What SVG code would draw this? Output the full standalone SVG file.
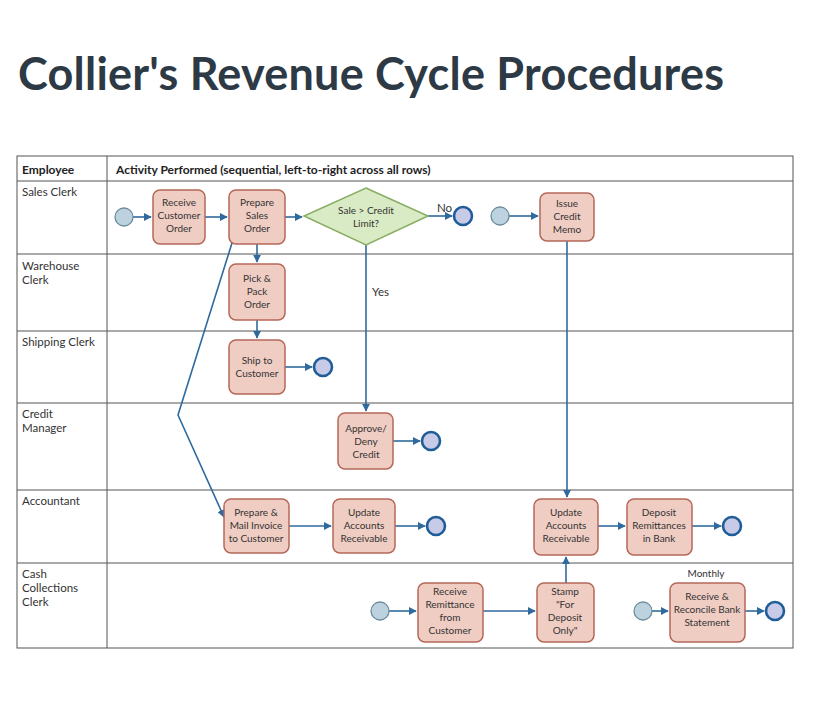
<svg xmlns="http://www.w3.org/2000/svg" width="836" height="716" viewBox="0 0 836 716">
<style>
.t{font-family:Lato,"Noto Sans",sans-serif;font-size:10px;fill:#333;text-anchor:middle}
.l{font-family:Lato,"Noto Sans",sans-serif;font-size:11.5px;fill:#333}
.h{font-family:Lato,"Noto Sans",sans-serif;font-size:12px;font-weight:bold;fill:#222}
.b{fill:#f0cdc3;stroke:#b5675a;stroke-width:1.5}
.s{fill:#bcd2de;stroke:#6f8d9e;stroke-width:1.3}
.e{fill:#c8cbe8;stroke:#1f5d99;stroke-width:2.6}
.c{stroke:#2f6a9e;stroke-width:1.6;fill:none;marker-end:url(#a)}
.g{stroke:#555;stroke-width:1;fill:none}
</style>
<defs><marker id="a" viewBox="0 0 10 10" refX="9" refY="5" markerWidth="5" markerHeight="5" orient="auto"><path d="M0,0L10,5L0,10z" fill="#2f6a9e"/></marker></defs>
<rect width="836" height="716" fill="#fff"/>
<text x="18" y="90" font-family="Lato,'Noto Sans',sans-serif" font-weight="bold" font-size="45" fill="#2d3a45" textLength="706">Collier's Revenue Cycle Procedures</text>
<g id="table">
<rect x="17" y="156" width="776" height="492" class="g"/>
<path d="M107 156V648M17 181H793M17 254H793M17 331H793M17 403H793M17 490H793M17 563H793" class="g"/>
<text x="22" y="174" class="h">Employee</text>
<text x="116" y="174" class="h">Activity Performed (sequential, left-to-right across all rows)</text>
<text x="22" y="196" class="l">Sales Clerk</text>
<text x="22" y="270" class="l">Warehouse</text><text x="22" y="284" class="l">Clerk</text>
<text x="22" y="346" class="l">Shipping Clerk</text>
<text x="22" y="418" class="l">Credit</text><text x="22" y="432" class="l">Manager</text>
<text x="22" y="505" class="l">Accountant</text>
<text x="22" y="578" class="l">Cash</text><text x="22" y="592" class="l">Collections</text><text x="22" y="606" class="l">Clerk</text>
</g>
<g id="connectors">
<path d="M133 217H151" class="c"/>
<path d="M205 217H227" class="c"/>
<path d="M285 217H302" class="c"/>
<path d="M428 216H452" class="c"/>
<path d="M509 216H538" class="c"/>
<path d="M257 244V262" class="c"/>
<path d="M257 320V338" class="c"/>
<path d="M285 367H312" class="c"/>
<path d="M366 245V411" class="c"/>
<path d="M393 441H420" class="c"/>
<path d="M232 243L178 415L224 517" class="c"/>
<path d="M289 526H331" class="c"/>
<path d="M395 526H425" class="c"/>
<path d="M567 241V497" class="c"/>
<path d="M598 526H625" class="c"/>
<path d="M692 526H721" class="c"/>
<path d="M389 611H416" class="c"/>
<path d="M483 611H535" class="c"/>
<path d="M566 583V557" class="c"/>
<path d="M652 611H668" class="c"/>
<path d="M745 611H764" class="c"/>
<text x="437" y="212" class="l" font-size="10">No</text>
<text x="372" y="296" class="l" font-size="10">Yes</text>
<text x="706" y="577" class="t">Monthly</text>
</g>
<g id="n1"><circle cx="124" cy="217" r="9" class="s"/></g>
<g id="n2"><rect x="153" y="190" width="52" height="54" rx="7" class="b"/><text class="t" x="179" y="206">Receive</text><text class="t" x="179" y="219">Customer</text><text class="t" x="179" y="232">Order</text></g>
<g id="n3"><rect x="229" y="190" width="56" height="54" rx="7" class="b"/><text class="t" x="257" y="206">Prepare</text><text class="t" x="257" y="219">Sales</text><text class="t" x="257" y="232">Order</text></g>
<g id="n4"><path d="M366 188L428 216L366 245L304 216Z" fill="#d9ebc4" stroke="#86ad62" stroke-width="1.5"/><text class="t" x="366" y="214">Sale  &gt; Credit</text><text class="t" x="366" y="227">Limit?</text></g>
<g id="n5"><circle cx="463" cy="216" r="9" class="e"/></g>
<g id="n6"><circle cx="500" cy="216" r="9" class="s"/></g>
<g id="n7"><rect x="540" y="193" width="54" height="48" rx="7" class="b"/><text class="t" x="567" y="207">Issue</text><text class="t" x="567" y="220">Credit</text><text class="t" x="567" y="233">Memo</text></g>
<g id="n8"><rect x="229" y="264" width="56" height="56" rx="7" class="b"/><text class="t" x="257" y="282">Pick &amp;</text><text class="t" x="257" y="295">Pack</text><text class="t" x="257" y="308">Order</text></g>
<g id="n9"><rect x="229" y="340" width="56" height="54" rx="7" class="b"/><text class="t" x="257" y="364">Ship to</text><text class="t" x="257" y="377">Customer</text></g>
<g id="n10"><circle cx="323" cy="367" r="9" class="e"/></g>
<g id="n11"><rect x="338" y="413" width="55" height="56" rx="7" class="b"/><text class="t" x="366" y="432">Approve/</text><text class="t" x="366" y="445">Deny</text><text class="t" x="366" y="458">Credit</text></g>
<g id="n12"><circle cx="431" cy="441" r="9" class="e"/></g>
<g id="n13"><rect x="224" y="499" width="65" height="54" rx="7" class="b"/><text class="t" x="256" y="516">Prepare &amp;</text><text class="t" x="256" y="529">Mail Invoice</text><text class="t" x="256" y="542">to Customer</text></g>
<g id="n14"><rect x="333" y="499" width="62" height="54" rx="7" class="b"/><text class="t" x="364" y="516">Update</text><text class="t" x="364" y="529">Accounts</text><text class="t" x="364" y="542">Receivable</text></g>
<g id="n15"><circle cx="436" cy="526" r="9" class="e"/></g>
<g id="n16"><rect x="534" y="499" width="64" height="56" rx="7" class="b"/><text class="t" x="566" y="516">Update</text><text class="t" x="566" y="529">Accounts</text><text class="t" x="566" y="542">Receivable</text></g>
<g id="n17"><rect x="627" y="499" width="65" height="56" rx="7" class="b"/><text class="t" x="659" y="516">Deposit</text><text class="t" x="659" y="529">Remittances</text><text class="t" x="659" y="542">in Bank</text></g>
<g id="n18"><circle cx="732" cy="526" r="9" class="e"/></g>
<g id="n19"><circle cx="380" cy="611" r="9" class="s"/></g>
<g id="n20"><rect x="418" y="583" width="65" height="59" rx="7" class="b"/><text class="t" x="450" y="595">Receive</text><text class="t" x="450" y="608">Remittance</text><text class="t" x="450" y="621">from</text><text class="t" x="450" y="634">Customer</text></g>
<g id="n21"><rect x="537" y="583" width="57" height="59" rx="7" class="b"/><text class="t" x="565" y="595">Stamp</text><text class="t" x="565" y="608">"For</text><text class="t" x="565" y="621">Deposit</text><text class="t" x="565" y="634">Only"</text></g>
<g id="n22"><circle cx="643" cy="611" r="9" class="s"/></g>
<g id="n23"><rect x="670" y="583" width="75" height="59" rx="7" class="b"/><text class="t" x="707" y="600">Receive  &amp;</text><text class="t" x="707" y="613">Reconcile Bank</text><text class="t" x="707" y="626">Statement</text></g>
<g id="n24"><circle cx="775" cy="611" r="9" class="e"/></g>
</svg>
